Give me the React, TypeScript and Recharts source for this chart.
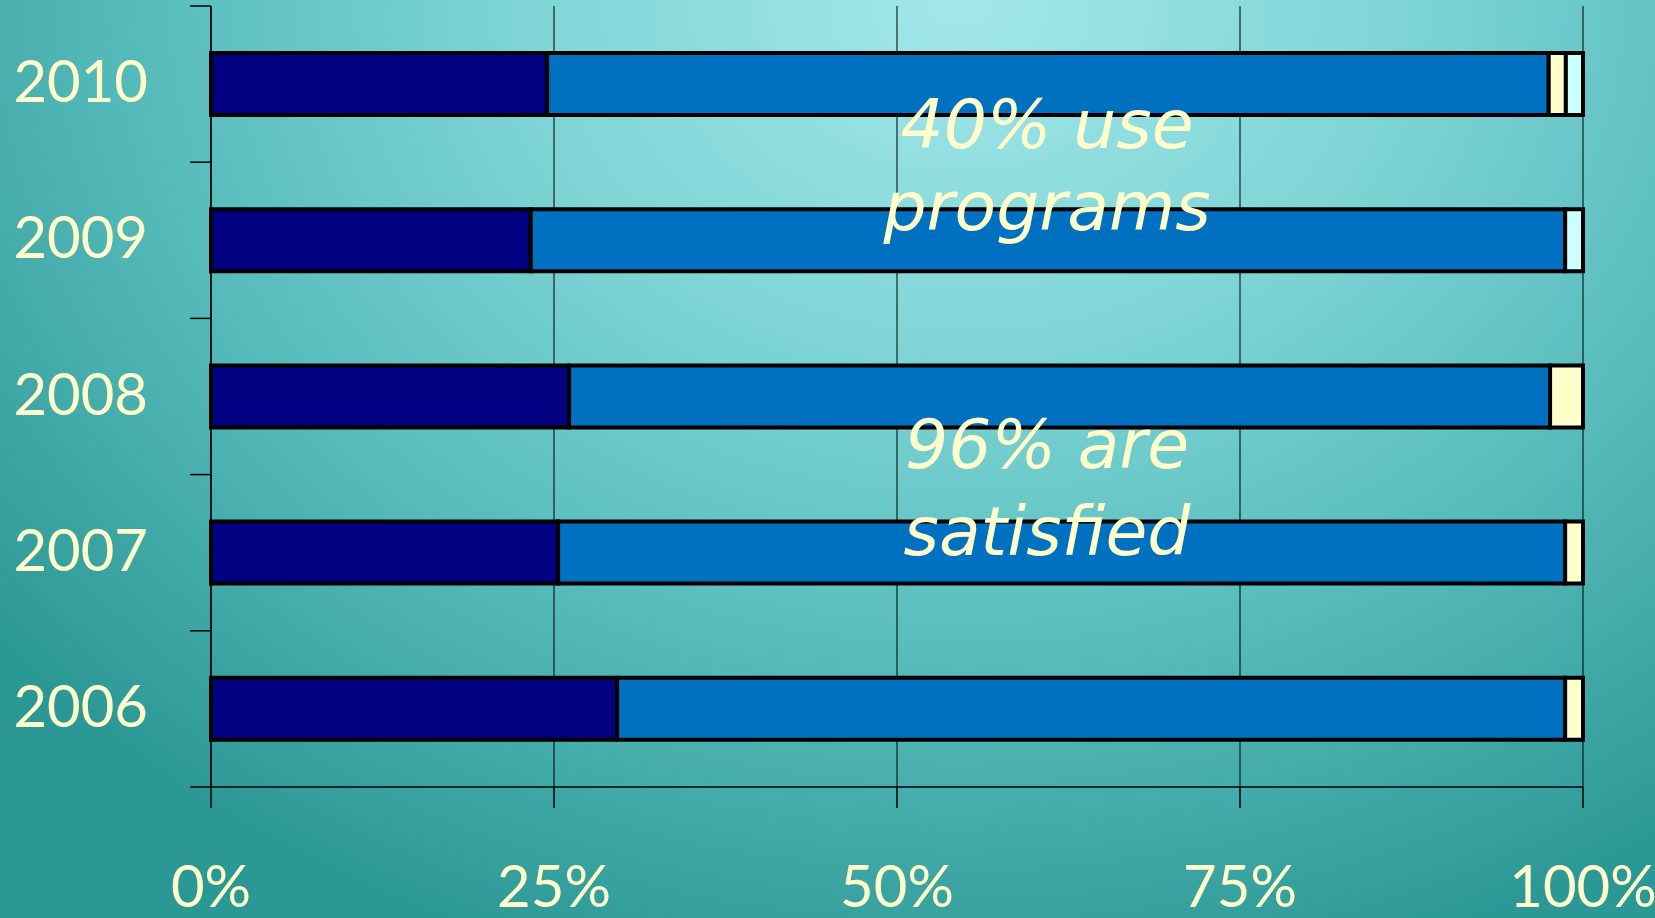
import React from 'react';
import { BarChart, Bar, XAxis, YAxis, CartesianGrid } from 'recharts';

const years = ['2010', '2009', '2008', '2007', '2006'];
const verySatisfied = [24.5, 23.3, 26.1, 25.3, 29.6];
const satisfied = [73.0, 75.4, 71.5, 73.4, 69.1];
const dissatisfied = [1.25, 0, 2.4, 1.3, 1.3];
const other = [1.25, 1.3, 0, 0, 0];
const xTicks = [0, 25, 50, 75, 100];
const notes = [
  { text: '40% use', x: 1047, y: 148 },
  { text: 'programs', x: 1047, y: 230 },
  { text: '96% are', x: 1047, y: 468 },
  { text: 'satisfied', x: 1047, y: 555 },
];

const data = years.map((y, i) => ({
  year: y,
  verySatisfied: verySatisfied[i],
  satisfied: satisfied[i],
  dissatisfied: dissatisfied[i],
  other: other[i],
}));

const W = 1655;
const H = 918;
const M = { top: 6, right: 72, bottom: 0, left: 0 };
const Y_W = 211;
const X_H = 131;
const PLOT_H = H - M.top - M.bottom - X_H;
const BAND = PLOT_H / years.length;
const TXT = '#FFFFCC';
const FONT = "'Comic Sans MS', Lato, 'DejaVu Sans', sans-serif";

const YTick = (props: any) => {
  const { y, payload, index } = props;
  const axisX = Y_W;
  return (
    <g>
      <line x1={axisX - 21} x2={axisX} y1={y - BAND / 2} y2={y - BAND / 2} stroke="#000" strokeWidth={1.5} />
      {index === years.length - 1 && (
        <line x1={axisX - 21} x2={axisX} y1={y + BAND / 2} y2={y + BAND / 2} stroke="#000" strokeWidth={1.5} />
      )}
      <text x={148} y={y + 18} textAnchor="end" fill={TXT} fontSize={58} fontFamily={FONT}>
        {payload.value}
      </text>
    </g>
  );
};

const XTick = (props: any) => {
  const { x, y, payload } = props;
  return (
    <text x={x} y={y + 41} textAnchor="middle" fill={TXT} fontSize={58} fontFamily={FONT}>
      {`${payload.value}%`}
    </text>
  );
};

export default function App() {
  return (
    <div
      style={{
        position: 'fixed',
        top: 0,
        left: 0,
        width: W,
        height: H,
        overflow: 'hidden',
        background:
          'radial-gradient(ellipse 75% 110% at 58% 0%, #a3e7eb 0%, #7fd5d6 35%, #58bcbc 65%, #2c9896 100%)',
      }}
    >
      <BarChart width={W} height={H} data={data} layout="vertical" margin={M} barSize={62}>
        <CartesianGrid horizontal={false} vertical={true} stroke="#000" strokeWidth={1} />
        <XAxis
          type="number"
          domain={[0, 100]}
          ticks={xTicks}
          interval={0}
          height={X_H}
          axisLine={{ stroke: '#000', strokeWidth: 1.5 }}
          tickLine={{ stroke: '#000', strokeWidth: 1.5 }}
          tickSize={21}
          tickMargin={58}
          tick={<XTick />}
        />
        <YAxis
          type="category"
          dataKey="year"
          width={Y_W}
          tickLine={false}
          axisLine={{ stroke: '#000', strokeWidth: 1.5 }}
          tick={<YTick />}
          interval={0}
        />
        <Bar dataKey="verySatisfied" stackId="a" fill="#000080" stroke="#000" strokeWidth={4} isAnimationActive={false} />
        <Bar dataKey="satisfied" stackId="a" fill="#0070C0" stroke="#000" strokeWidth={4} isAnimationActive={false} />
        <Bar dataKey="dissatisfied" stackId="a" fill="#FFFFCC" stroke="#000" strokeWidth={4} isAnimationActive={false} />
        <Bar dataKey="other" stackId="a" fill="#CCFFFF" stroke="#000" strokeWidth={4} isAnimationActive={false} />
      </BarChart>
      <svg
        width={W}
        height={H}
        style={{ position: 'absolute', top: 0, left: 0, pointerEvents: 'none' }}
      >
        {notes.map((n) => (
          <text
            key={n.text}
            x={n.x}
            y={n.y}
            textAnchor="middle"
            fill={TXT}
            fontSize={68}
            fontStyle="italic"
            fontFamily="'Comic Sans MS', 'DejaVu Sans', sans-serif"
          >
            {n.text}
          </text>
        ))}
      </svg>
    </div>
  );
}
